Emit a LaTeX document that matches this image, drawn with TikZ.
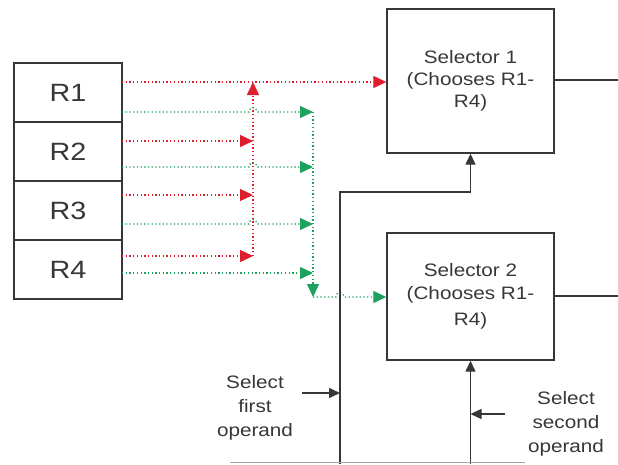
\documentclass[tikz,border=0pt]{standalone}
\usepackage{fontspec}
\setmainfont{Liberation Sans}[FakeStretch=1.15]
\usepackage{xcolor}
\usetikzlibrary{arrows.meta, positioning, calc}
\definecolor{selred}{RGB}{222,30,45}
\definecolor{selgreen}{RGB}{30,160,95}
\definecolor{ink}{RGB}{55,55,55}
\tikzset{
  reg/.style={rectangle, draw=ink, line width=1.4pt, minimum width=108pt,
              minimum height=59pt, inner sep=0pt, outer sep=0pt,
              font=\fontsize{25}{26}\selectfont, text=ink},
  selbox/.style={rectangle, draw=ink, line width=1.4pt, minimum width=167pt,
                 align=center, font=\fontsize{18}{22}\selectfont, text=ink},
  lbl/.style={align=center, font=\fontsize{18}{24}\selectfont, text=ink},
  rarr/.style={selred, line width=1.3pt, dash pattern=on 1.3pt off 2.4pt,
               -{Triangle[length=13pt,width=12pt]}},
  garr/.style={selgreen, line width=1.3pt, dash pattern=on 1.3pt off 2.4pt,
               -{Triangle[length=13pt,width=12pt]}},
  warr/.style={ink, line width=1.4pt, -{Triangle[length=11pt,width=10pt]}},
  wire/.style={ink, line width=1.4pt},
}
\begin{document}
\begin{tikzpicture}[x=1pt,y=-1pt]
  \useasboundingbox (0,0) rectangle (618,464);
  % registers
  \node[reg] (R1) at (68,92.5) {R1};
  \node[reg, below=0pt of R1] (R2) {R2};
  \node[reg, below=0pt of R2] (R3) {R3};
  \node[reg, below=0pt of R3] (R4) {R4};
  % selectors
  \node[selbox, minimum height=144pt] (S1) at (470.5,81)
        {Selector 1\\(Chooses R1-\\R4)};
  \node[selbox, minimum height=127pt] (S2) at (470.5,296.5)
        {Selector 2\\[1pt](Chooses R1-\\[4pt]R4)};
  % bus end points
  \coordinate (rtop) at (253,82);
  \coordinate (rbot) at (253,256);
  \coordinate (gtop) at (313,112);
  \coordinate (gbot) at (313,297);
  % red lines (first operand)
  \draw[rarr] (R1.east |- rtop) -- (S1.west |- rtop);
  \foreach \i/\y in {2/141, 3/195, 4/256}
    \draw[rarr] (R\i.east |- 0,\y) -- (rtop |- 0,\y);
  \draw[rarr] (rbot) -- (rtop);
  % green lines (second operand), hopping over the red bus
  \foreach \i/\y in {1/112, 2/167, 3/224}
    \draw[garr] (R\i.east |- 0,\y) -- (249,\y)
          .. controls (249,\y-6) and (257,\y-6) .. (257,\y) -- (gtop |- 0,\y);
  \draw[garr] (R4.east |- 0,273) -- (gtop |- 0,273);
  \draw[garr] (gtop) -- (gbot);
  \draw[garr] (gbot) -- (336,297)
        .. controls (336,291) and (344,291) .. (344,297) -- (S2.west |- 0,297);
  % outputs
  \coordinate (out1) at (618,80);
  \coordinate (out2) at (618,296);
  \draw[wire] (S1.east |- out1) -- (out1);
  \draw[wire] (S2.east |- out2) -- (out2);
  % select inputs
  \coordinate (w1bot) at (340,464);
  \coordinate (w1top) at (340,192);
  \draw[warr] (w1bot) -- (w1top) -| (S1.south);
  \coordinate (w2bot) at (470.5,464);
  \draw[warr] (w2bot) -- (S2.south);
  \draw[black!35, line width=1pt] (230,462) -- (525,462);
  % labels
  \node[lbl] (first) at (255,408) {Select\\first\\operand};
  \node[lbl] (second) at (566,424) {Select\\second\\operand};
  \coordinate (s1tail) at (302,393);
  \coordinate (s2tail) at (505,414);
  \draw[warr] (s1tail) -- (w1top |- s1tail);
  \draw[warr] (s2tail) -- (S2.south |- s2tail);
\end{tikzpicture}
\end{document}
